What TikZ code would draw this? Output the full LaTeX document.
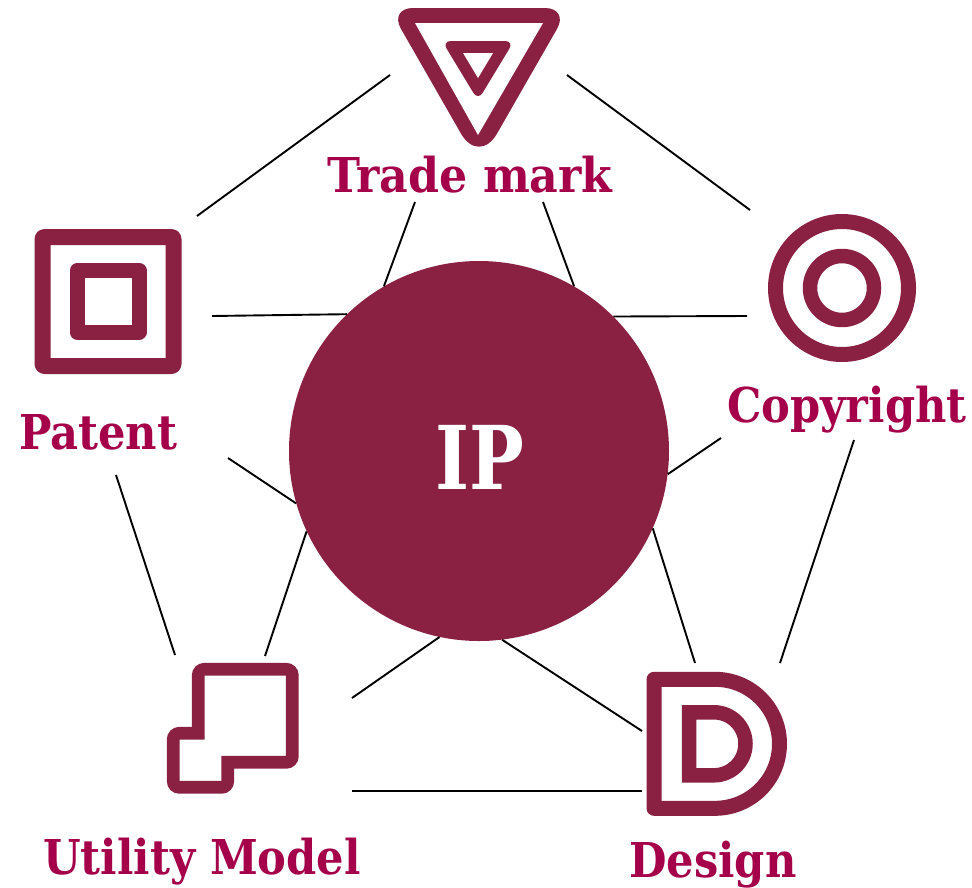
\documentclass[tikz,border=0pt]{standalone}
\usepackage{fontspec}
\setmainfont{DejaVu Serif Condensed}
\usepackage{tikz}
\usetikzlibrary{positioning}
\definecolor{ipred}{HTML}{8B2142}
\definecolor{labelred}{HTML}{A5004A}
\tikzset{x=1pt, y=-1pt, node distance=5pt,
  link/.style={draw=black, line width=1.9pt},
  icon/.style={draw=ipred, line join=round},
  caption/.style={text=labelred, font=\bfseries\fontsize{48}{48}\selectfont, inner sep=0pt, anchor=base}}

\begin{document}
\begin{tikzpicture}
\useasboundingbox (0,0) rectangle (972,887);
\node (ip) [circle, fill=ipred, minimum size=380pt, inner sep=0pt] at (479,451) {};
\node (iptext) [text=white, font=\bfseries\fontsize{88}{88}\selectfont, inner sep=0pt, anchor=base] at (480,489) {\scalebox{0.92}[1]{IP}};
\node (trademark) [caption] at (470,192) {\scalebox{1.025}[1]{Trade mark}};
\node (copyright) [caption] at (847,422) {Copyright};
\node (patent) [caption] at (98,449) {Patent};
\node (utility) [caption] at (202,874) {Utility Model};
\node (design) [caption] at (713,877) {Design};
% icons
\fill[ipred, rounded corners=24pt] (389,8) -- (569,8) [rounded corners=36pt] -- (479,165) [rounded corners=24pt] -- cycle;
\fill[white] (415,23) -- (543,23) -- (478,135) -- cycle;
\fill[ipred, rounded corners=9pt] (442,41) -- (514,41) -- (478,100.5) -- cycle;
\fill[white] (463,53) -- (493,53) -- (478,78) -- cycle;
\draw[icon, line width=16pt, rounded corners=2pt] (42.5,237) rectangle (173.5,366);
\draw[icon, line width=15pt] (77,270.5) rectangle (139,332);
\draw[icon, line width=15pt] (842,288) circle (66.5);
\draw[icon, line width=14.5pt] (842,288) circle (32);
\draw[icon, line width=12.7pt, line join=miter] (198.3,733.3) [rounded corners=6pt] -- (198.3,669.3) -- (292.3,669.3) -- (292.3,762.3) [sharp corners] -- (227.7,762.3) [rounded corners=6pt] -- (227.7,787.3) -- (173.3,787.3) -- (173.3,733.3) [sharp corners] -- cycle;
\draw[icon, line width=15pt] (715,679.3) arc (-90:90:64.5) -- (654,808.3) -- (654,679.3) -- cycle;
\draw[icon, line width=14.5pt, line join=miter] (714,712.3) arc (-90:90:31.5) -- (689,775.3) -- (689,712.3) -- cycle;
% free ends of the links
\coordinate (pt) at (197,216);
\coordinate (tp) at (390,75);
\coordinate (tc) at (567,75);
\coordinate (ct) at (750,210);
\coordinate (tl) at (415,202);
\coordinate (tr) at (543,202);
\coordinate (pr) at (212,316);
\coordinate (cl) at (747,316);
\coordinate (pd) at (228,458);
\coordinate (cd) at (721,438);
\coordinate (pb) at (116,475);
\coordinate (ub) at (175,655);
\coordinate (ua) at (265,656);
\coordinate (ur) at (352,698);
\coordinate (dl) at (642,731);
\coordinate (da) at (695,663);
\coordinate (db) at (780,663);
\coordinate (cb) at (854,440);
\coordinate (ue) at (352,791);
\coordinate (de) at (642,791);
\draw[link] (pt) -- (tp);
\draw[link] (tc) -- (ct);
\draw[link] (tl) -- (ip.120);
\draw[link] (tr) -- (ip.60);
\draw[link] (pr) -- (ip.134.9);
\draw[link] (cl) -- (ip.45.1);
\draw[link] (pd) -- (ip.196);
\draw[link] (cd) -- (ip.-7.5);
\draw[link] (pb) -- (ub);
\draw[link] (ua) -- (ip.205);
\draw[link] (ur) -- (ip.258.5);
\draw[link] (dl) -- (ip.277);
\draw[link] (da) -- (ip.-24.7);
\draw[link] (db) -- (cb);
\draw[link] (ue) -- (de);
\end{tikzpicture}
\end{document}
